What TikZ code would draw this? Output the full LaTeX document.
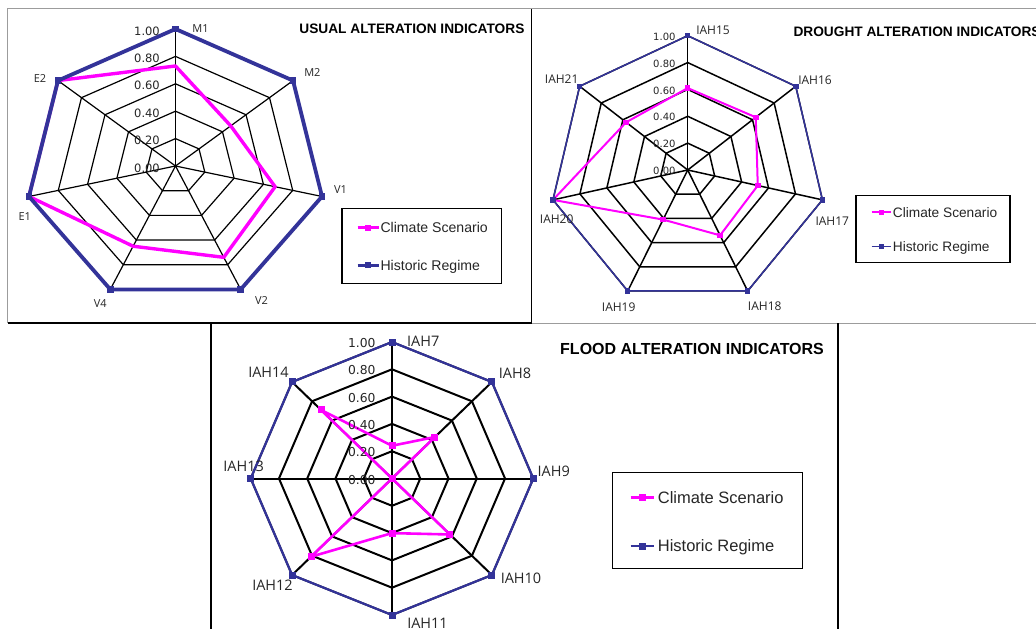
\documentclass[tikz,border=0pt]{standalone}
\usepackage{fontspec}
\setmainfont{Liberation Sans}
\newfontfamily\tickfnt{DejaVu Sans}
\newfontfamily\catfnt{Open Sans}
\usetikzlibrary{calc}

\definecolor{histblue}{HTML}{333399}
\definecolor{climmag}{HTML}{FF00FF}
\definecolor{framegray}{HTML}{9C9C9C}
\definecolor{ink}{HTML}{262626}

\tikzset{
  framegrayline/.style={draw=framegray, line width=1.4},
  frameblackline/.style={draw=black, line width=1.4},
  % spider-web grid of each chart
  gridA/.style={draw=black, line width=1.2, line join=miter},
  gridB/.style={draw=black, line width=1.5, line join=miter},
  gridC/.style={draw=black, line width=2.0, line join=miter},
  % data series
  histA/.style={draw=histblue, line width=3.8, line join=miter},
  climA/.style={draw=climmag, line width=3.4, line join=round},
  histB/.style={draw=histblue, line width=1.5, line join=miter},
  climB/.style={draw=climmag, line width=2.0, line join=round},
  histC/.style={draw=histblue, line width=2.2, line join=miter},
  climC/.style={draw=climmag, line width=2.6, line join=round},
  sq/.style={rectangle, inner sep=0, minimum size=#1},
  % texts
  tickA/.style={font=\tickfnt\fontsize{11.5}{12}\selectfont, text=ink, anchor=east, inner sep=0, text height=8.4, text depth=0},
  tickB/.style={font=\tickfnt\fontsize{10}{11}\selectfont, text=ink, anchor=east, inner sep=0, text height=7.3, text depth=0},
  tickC/.style={font=\tickfnt\fontsize{12.3}{13}\selectfont, text=ink, anchor=east, inner sep=0, text height=9.0, text depth=0},
  catA/.style={font=\catfnt\fontsize{11}{12}\selectfont, text=ink, inner sep=0, text height=7.9, text depth=0},
  catB/.style={font=\catfnt\fontsize{12}{13}\selectfont, text=ink, inner sep=0, text height=8.6, text depth=0},
  catC/.style={font=\catfnt\fontsize{14.5}{15}\selectfont, text=ink, inner sep=0, text height=10.4, text depth=0},
  titleA/.style={font=\bfseries\fontsize{13.7}{15}\selectfont, anchor=west, inner sep=0, text height=9.8, text depth=0},
  titleC/.style={font=\bfseries\fontsize{16}{17}\selectfont, anchor=west, inner sep=0, text height=11.5, text depth=0},
  legA/.style={font=\fontsize{14.1}{15}\selectfont, text=ink, anchor=west, inner sep=0, text height=10.1, text depth=0},
  legB/.style={font=\fontsize{13.7}{15}\selectfont, text=ink, anchor=west, inner sep=0, text height=9.8, text depth=0},
  legC/.style={font=\fontsize{16.5}{17}\selectfont, text=ink, anchor=west, inner sep=0, text height=11.8, text depth=0},
  legbox/.style={draw=black, line width=1.1},
}

\begin{document}
\begin{tikzpicture}[x=1pt, y=-1pt]
\useasboundingbox (0,0) rectangle (1036,629);
\fill[white] (0,0) rectangle (1036,629);
\clip (0,0) rectangle (1036,629);

% ---------------- panel frames ----------------
\draw[framegrayline] (7.5,323) -- (7.5,8.5) -- (1036,8.5);
\draw[framegrayline] (531.5,323.3) -- (1036,323.3);
\draw[frameblackline] (7.5,323) -- (531.5,323) -- (531.5,8.5);
\draw[frameblackline] (211,629) -- (211,323);
\draw[frameblackline] (838,629) -- (838,323.3);

% =============== USUAL ALTERATION INDICATORS (7 axes) ===============
\coordinate (Ac) at (175.5,166);
\foreach \k in {0,...,6}
  \coordinate (A\k) at ({175.5+150.3*sin(360*\k/7)},{166-137*cos(360*\k/7)});
\foreach \l in {0.2,0.4,0.6,0.8,1}
  \draw[gridA] ($(Ac)!\l!(A0)$) \foreach \k in {1,...,6}{ -- ($(Ac)!\l!(A\k)$)} -- cycle;
\foreach \k in {0,...,6}
  \draw[gridA] (Ac) -- (A\k);
\foreach \k/\v in {0/0.73,1/0.47,2/0.68,3/0.74,4/0.65,5/1,6/1}
  \coordinate (Ca\k) at ($(Ac)!\v!(A\k)$);
\draw[climA] (Ca0) \foreach \k in {1,...,6}{ -- (Ca\k)} -- cycle;
\draw[histA] (A0) \foreach \k in {1,...,6}{ -- (A\k)} -- cycle;
\foreach \k in {0,...,6}
  \node[sq=6.5, fill=histblue] (mkA\k) at (A\k) {};
\foreach \i/\t in {0/0.00,1/0.20,2/0.40,3/0.60,4/0.80,5/1.00}
  \node[tickA] (tkA\i) at (160,{166-137*\i/5+1.8}) {\t};
\node[catA] (labM1) at (200.5,29) {M1};
\node[catA] (labM2) at (312.4,72.3) {M2};
\node[catA] (labV1) at (340.6,190) {V1};
\node[catA] (labV2) at (261.5,301) {V2};
\node[catA] (labV4) at (100.2,303.3) {V4};
\node[catA] (labE1) at (24.8,216.7) {E1};
\node[catA] (labE2) at (40,78.3) {E2};
\node[titleA] (ttlA) at (299.2,28.3) {USUAL ALTERATION INDICATORS};
% legend
\draw[legbox] (342,208.5) rectangle (501.5,283.5);
\coordinate (lgA1a) at (357.7,227.7); \coordinate (lgA1b) at (378.6,227.7);
\coordinate (lgA2a) at (357.7,265);   \coordinate (lgA2b) at (378.6,265);
\draw[climA] (lgA1a) -- (lgA1b);
\node[sq=6, fill=climmag] (lgA1m) at ($(lgA1a)!0.5!(lgA1b)$) {};
\node[legA] (lgA1t) at (380.3,227.7) {Climate Scenario};
\draw[histA, line width=3] (lgA2a) -- (lgA2b);
\node[sq=6, fill=histblue] (lgA2m) at ($(lgA2a)!0.5!(lgA2b)$) {};
\node[legA] (lgA2t) at (380.3,265) {Historic Regime};

% =============== DROUGHT ALTERATION INDICATORS (7 axes) ===============
\coordinate (Bc) at (687.7,170);
\foreach \k in {0,...,6}
  \coordinate (B\k) at ({687.7+138.2*sin(360*\k/7)},{170-134.3*cos(360*\k/7)});
\foreach \l in {0.2,0.4,0.6,0.8,1}
  \draw[gridB] ($(Bc)!\l!(B0)$) \foreach \k in {1,...,6}{ -- ($(Bc)!\l!(B\k)$)} -- cycle;
\foreach \k in {0,...,6}
  \draw[gridB] (Bc) -- (B\k);
\foreach \k/\v in {0/0.61,1/0.63,2/0.52,3/0.54,4/0.41,5/1,6/0.57}
  \coordinate (Cb\k) at ($(Bc)!\v!(B\k)$);
\draw[climB] (Cb0) \foreach \k in {1,...,6}{ -- (Cb\k)} -- cycle;
\foreach \k in {0,...,6}
  \node[sq=5.5, fill=climmag] (mcB\k) at (Cb\k) {};
\draw[histB] (B0) \foreach \k in {1,...,6}{ -- (B\k)} -- cycle;
\foreach \k in {0,...,6}
  \node[sq=5.5, fill=histblue] (mkB\k) at (B\k) {};
\foreach \i/\t in {0/0.00,1/0.20,2/0.40,3/0.60,4/0.80,5/1.00}
  \node[tickB] (tkB\i) at (675.7,{170-134.3*\i/5+1}) {\t};
\node[catB] (labI15) at (713,30) {IAH15};
\node[catB] (labI16) at (815,80) {IAH16};
\node[catB] (labI17) at (832.3,221) {IAH17};
\node[catB] (labI18) at (764.7,306) {IAH18};
\node[catB] (labI19) at (618.7,306.7) {IAH19};
\node[catB] (labI20) at (556.7,219) {IAH20};
\node[catB] (labI21) at (561.7,79.3) {IAH21};
\node[titleA] (ttlB) at (793.3,31.7) {DROUGHT ALTERATION INDICATORS};
% legend
\draw[legbox] (856,195.7) rectangle (1010,262.7);
\coordinate (lgB1a) at (871.7,212.3); \coordinate (lgB1b) at (891,212.3);
\coordinate (lgB2a) at (871.7,246.7); \coordinate (lgB2b) at (891,246.7);
\draw[climB] (lgB1a) -- (lgB1b);
\node[sq=5.5, fill=climmag] (lgB1m) at ($(lgB1a)!0.5!(lgB1b)$) {};
\node[legB] (lgB1t) at (892.7,212.3) {Climate Scenario};
\draw[histB] (lgB2a) -- (lgB2b);
\node[sq=5.5, fill=histblue] (lgB2m) at ($(lgB2a)!0.5!(lgB2b)$) {};
\node[legB] (lgB2t) at (892.7,246.7) {Historic Regime};

% =============== FLOOD ALTERATION INDICATORS (8 axes) ===============
\coordinate (Cc) at (392,478.5);
\foreach \k in {0,...,7}
  \coordinate (F\k) at ({392+141.3*sin(45*\k)},{478.5-136.5*cos(45*\k)});
\foreach \l in {0.2,0.4,0.6,0.8,1}
  \draw[gridC] ($(Cc)!\l!(F0)$) \foreach \k in {1,...,7}{ -- ($(Cc)!\l!(F\k)$)} -- cycle;
\foreach \k in {0,...,7}
  \draw[gridC] (Cc) -- (F\k);
\foreach \k/\v in {0/0.24,1/0.43,2/0,3/0.58,4/0.40,5/0.81,6/0,7/0.71}
  \coordinate (Cf\k) at ($(Cc)!\v!(F\k)$);
\draw[climC] (Cf0) \foreach \k in {1,...,7}{ -- (Cf\k)} -- cycle;
\foreach \k in {0,...,7}
  \node[sq=7, fill=climmag] (mcC\k) at (Cf\k) {};
\draw[histC] (F0) \foreach \k in {1,...,7}{ -- (F\k)} -- cycle;
\foreach \k in {0,...,7}
  \node[sq=7, fill=histblue] (mkC\k) at (F\k) {};
\foreach \i/\t in {0/0.00,1/0.20,2/0.40,3/0.60,4/0.80,5/1.00}
  \node[tickC] (tkC\i) at (375.7,{478.5-136.5*\i/5+1}) {\t};
\node[catC] (labI7)  at (423.3,341.7) {IAH7};
\node[catC] (labI8)  at (515,373.3) {IAH8};
\node[catC] (labI9)  at (553.7,471.7) {IAH9};
\node[catC] (labI10) at (521,578.3) {IAH10};
\node[catC] (labI11) at (427.5,623.3) {IAH11};
\node[catC] (labI12) at (272.5,585.7) {IAH12};
\node[catC] (labI13) at (243.7,466) {IAH13};
\node[catC] (labI14) at (268.5,372.7) {IAH14};
\node[titleC] (ttlC) at (560,348.3) {FLOOD ALTERATION INDICATORS};
% legend
\draw[legbox] (612.3,472.3) rectangle (802.7,568.7);
\coordinate (lgC1a) at (630.7,497.7); \coordinate (lgC1b) at (654,497.7);
\coordinate (lgC2a) at (630.7,546);   \coordinate (lgC2b) at (654,546);
\draw[climC] (lgC1a) -- (lgC1b);
\node[sq=7, fill=climmag] (lgC1m) at ($(lgC1a)!0.5!(lgC1b)$) {};
\node[legC] (lgC1t) at (657.7,497.7) {Climate Scenario};
\draw[histC] (lgC2a) -- (lgC2b);
\node[sq=7, fill=histblue] (lgC2m) at ($(lgC2a)!0.5!(lgC2b)$) {};
\node[legC] (lgC2t) at (657.7,546) {Historic Regime};
\end{tikzpicture}
\end{document}
